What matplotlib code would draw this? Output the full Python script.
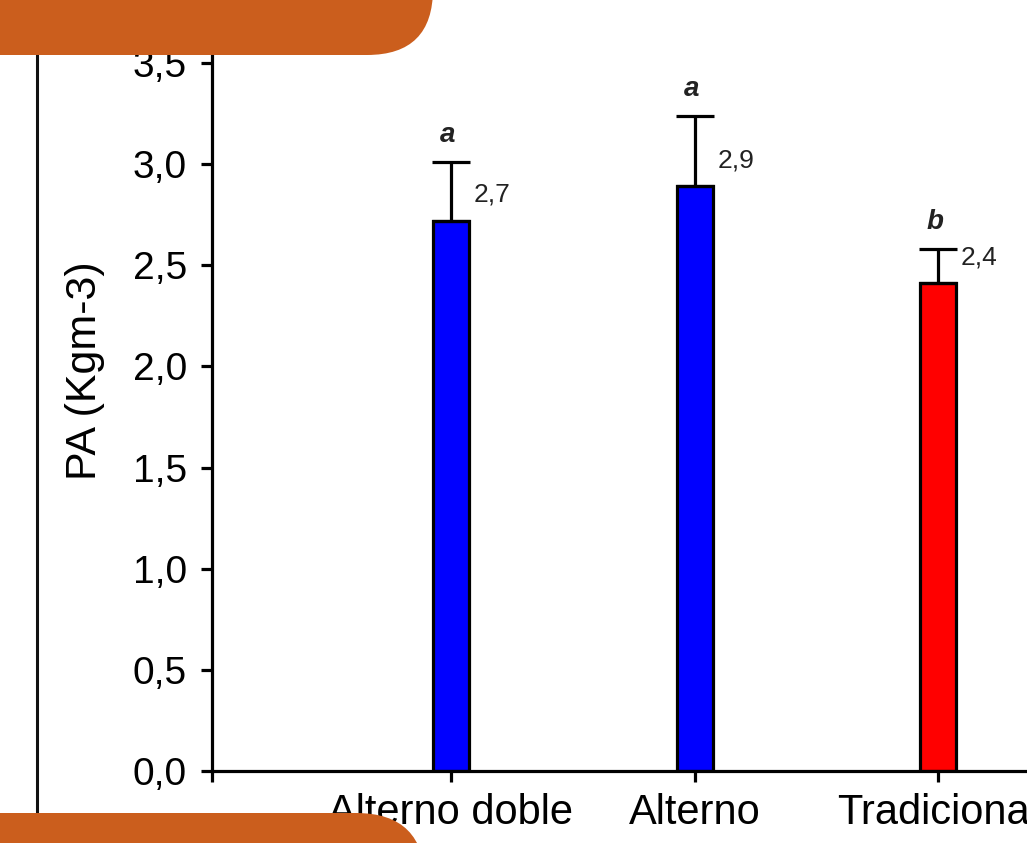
import matplotlib
matplotlib.use("Agg")
import matplotlib.pyplot as plt
from matplotlib.patches import FancyBboxPatch

categories = ["Alterno doble", "Alterno", "Tradicional"]
values = [2.72, 2.89, 2.41]
errors = [0.29, 0.35, 0.17]
value_labels = ["2,7", "2,9", "2,4"]
letters = ["a", "a", "b"]
colors = ["#0000FF", "#0000FF", "#FF0000"]
yticks = [0.0, 0.5, 1.0, 1.5, 2.0, 2.5, 3.0, 3.5]
ytick_labels = ["0,0", "0,5", "1,0", "1,5", "2,0", "2,5", "3,0", "3,5"]

plt.rcParams["font.family"] = ["Liberation Sans", "DejaVu Sans"]

W, H = 1027, 843
fig = plt.figure(figsize=(W / 100, H / 100), dpi=100)

# axes in pixel layout: left spine at x=212, baseline at y=771, top at y=0
ax = fig.add_axes([212 / W, 1 - 771 / H, 1 - 212 / W, 771 / H])
px_per_unit = (771 - 63) / 3.5
ax.set_ylim(0, 771 / px_per_unit)
step = 243.5
x0 = 451
xmin = (212 - x0) / step
xmax = (W - x0) / step
ax.set_xlim(xmin, xmax)

x = list(range(len(categories)))
ax.bar(x, values, width=36 / step, color=colors, edgecolor="black", linewidth=2.3, zorder=2)
ax.errorbar(x, values, yerr=[[0] * len(values), errors], fmt="none", ecolor="black",
            elinewidth=2.3, capsize=14, capthick=2.3, zorder=3)

for xi, v, e, lab, let in zip(x, values, errors, value_labels, letters):
    ax.annotate(lab, xy=(xi, v), xytext=(23, 14), textcoords="offset pixels",
                ha="left", va="bottom", fontsize=19, color="#222222")
    ax.annotate(let, xy=(xi, v + e), xytext=(-3, 14), textcoords="offset pixels",
                ha="center", va="bottom", fontsize=20, fontweight="bold",
                fontstyle="italic", color="#222222")

ax.set_yticks(yticks)
ax.set_yticklabels(ytick_labels, fontsize=28)
ax.set_xticks([xmin + 0.002] + x)
ax.set_xticklabels([""] + categories, fontsize=30)
ax.tick_params(axis="both", length=8, width=2.3, color="black", direction="out")
ax.tick_params(axis="y", pad=10)
ax.tick_params(axis="x", pad=8)
for s in ["top", "right"]:
    ax.spines[s].set_visible(False)
for s in ["left", "bottom"]:
    ax.spines[s].set_linewidth(2.3)
ax.set_ylabel("PA (Kgm-3)", fontsize=31)
ax.yaxis.set_label_coords((105 - 212) / (W - 212), (771 - 371) / 771)
ax.patch.set_alpha(0)

# overlay for decorative elements
ov = fig.add_axes([0, 0, 1, 1], zorder=5)
ov.set_xlim(0, W)
ov.set_ylim(H, 0)
ov.axis("off")
ov.patch.set_alpha(0)
ov.plot([37, 37], [0, H], color="#111111", lw=2.2, zorder=1)
orange = "#CB5E1D"
ov.add_patch(FancyBboxPatch((-200, -200), 633, 255, boxstyle="round,pad=0,rounding_size=66",
                            facecolor=orange, edgecolor="none", zorder=2))
ov.add_patch(FancyBboxPatch((-200, 813), 625, 300, boxstyle="round,pad=0,rounding_size=69",
                            facecolor=orange, edgecolor="none", zorder=2))

fig.savefig("out.png", dpi=100)
